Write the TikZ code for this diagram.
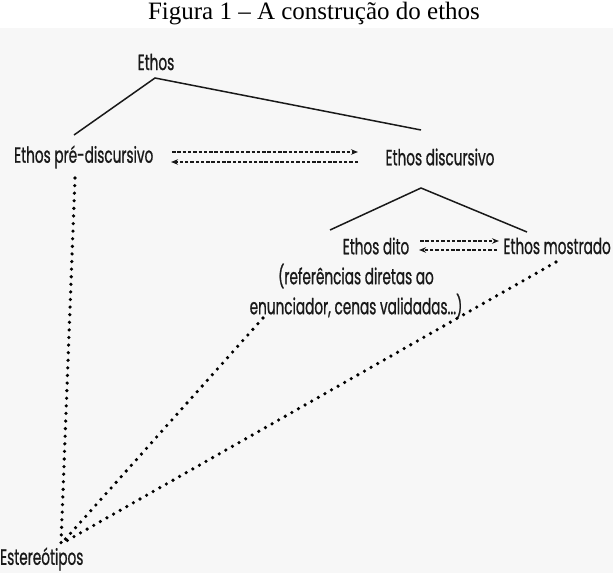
\documentclass[tikz,border=0pt]{standalone}
\usepackage{fontspec}
\setmainfont{Liberation Serif}
\newfontfamily\fut[FakeStretch=0.62,FakeBold=0.8]{Poppins}
\usetikzlibrary{arrows.meta}
\begin{document}
\begin{tikzpicture}[x=1pt,y=-1pt,
  lbl/.style={font=\fut\fontsize{22}{30}\selectfont, inner sep=0pt, text=black!90},
  solidln/.style={line width=1.5pt, black!90},
  dasharrow/.style={line width=1.3pt, black!90, dash pattern=on 3.5pt off 1.8pt, -{Stealth[length=7pt,width=5.5pt]}},
  dotln/.style={line width=3.6pt, black, line cap=round, dash pattern=on 0pt off 7.6pt}]
\useasboundingbox (0,0) rectangle (613,573);
\fill[black!3] (0,28) rectangle (613,573);
\node[font=\fontsize{25}{26}\selectfont] (title) at (314,14) {Figura 1 -- A construção do ethos};
\node[lbl] (ethos) at (156,62) {Ethos};
\node[lbl, anchor=west] (pre) at (14,157) {Ethos pré-discursivo};
\node[lbl] (disc) at (440,157) {Ethos discursivo};
\node[lbl] (dito) at (376,246) {Ethos dito};
\node[lbl, anchor=east] (most) at (611,246) {Ethos mostrado};
\node[lbl, align=center] (ref) at (356,291) {(referências diretas ao\\enunciador, cenas validadas...)};
\node[lbl, anchor=west] (est) at (0,559) {Estereótipos};
% tree lines
\coordinate (ap1) at (155,78);
\coordinate (l1) at (74,135);
\coordinate (r1) at (421,130);
\draw[solidln] (l1) -- (ap1) -- (r1);
\coordinate (ap2) at (421,188);
\coordinate (l2) at (330,230);
\coordinate (r2) at (527,232);
\draw[solidln] (l2) -- (ap2) -- (r2);
% dashed arrows
\coordinate (pa) at (172,152); \coordinate (pb) at (358,152);
\coordinate (pc) at (358,162); \coordinate (pd) at (171,162);
\draw[dasharrow] (pa) -- (pb);
\draw[dasharrow] (pc) -- (pd);
\coordinate (da) at (420,241); \coordinate (db) at (499,241);
\coordinate (dc) at (497,250); \coordinate (dd) at (419,250);
\draw[dasharrow] (da) -- (db);
\draw[dasharrow] (dc) -- (dd);
% dotted lines
\coordinate (s) at (61,544);
\coordinate (t1) at (75,178);
\coordinate (t2) at (263,318);
\coordinate (t3) at (556,262);
\draw[dotln] (t1) -- (s);
\draw[dotln] (t2) -- (s);
\draw[dotln] (t3) -- (s);
\end{tikzpicture}
\end{document}
